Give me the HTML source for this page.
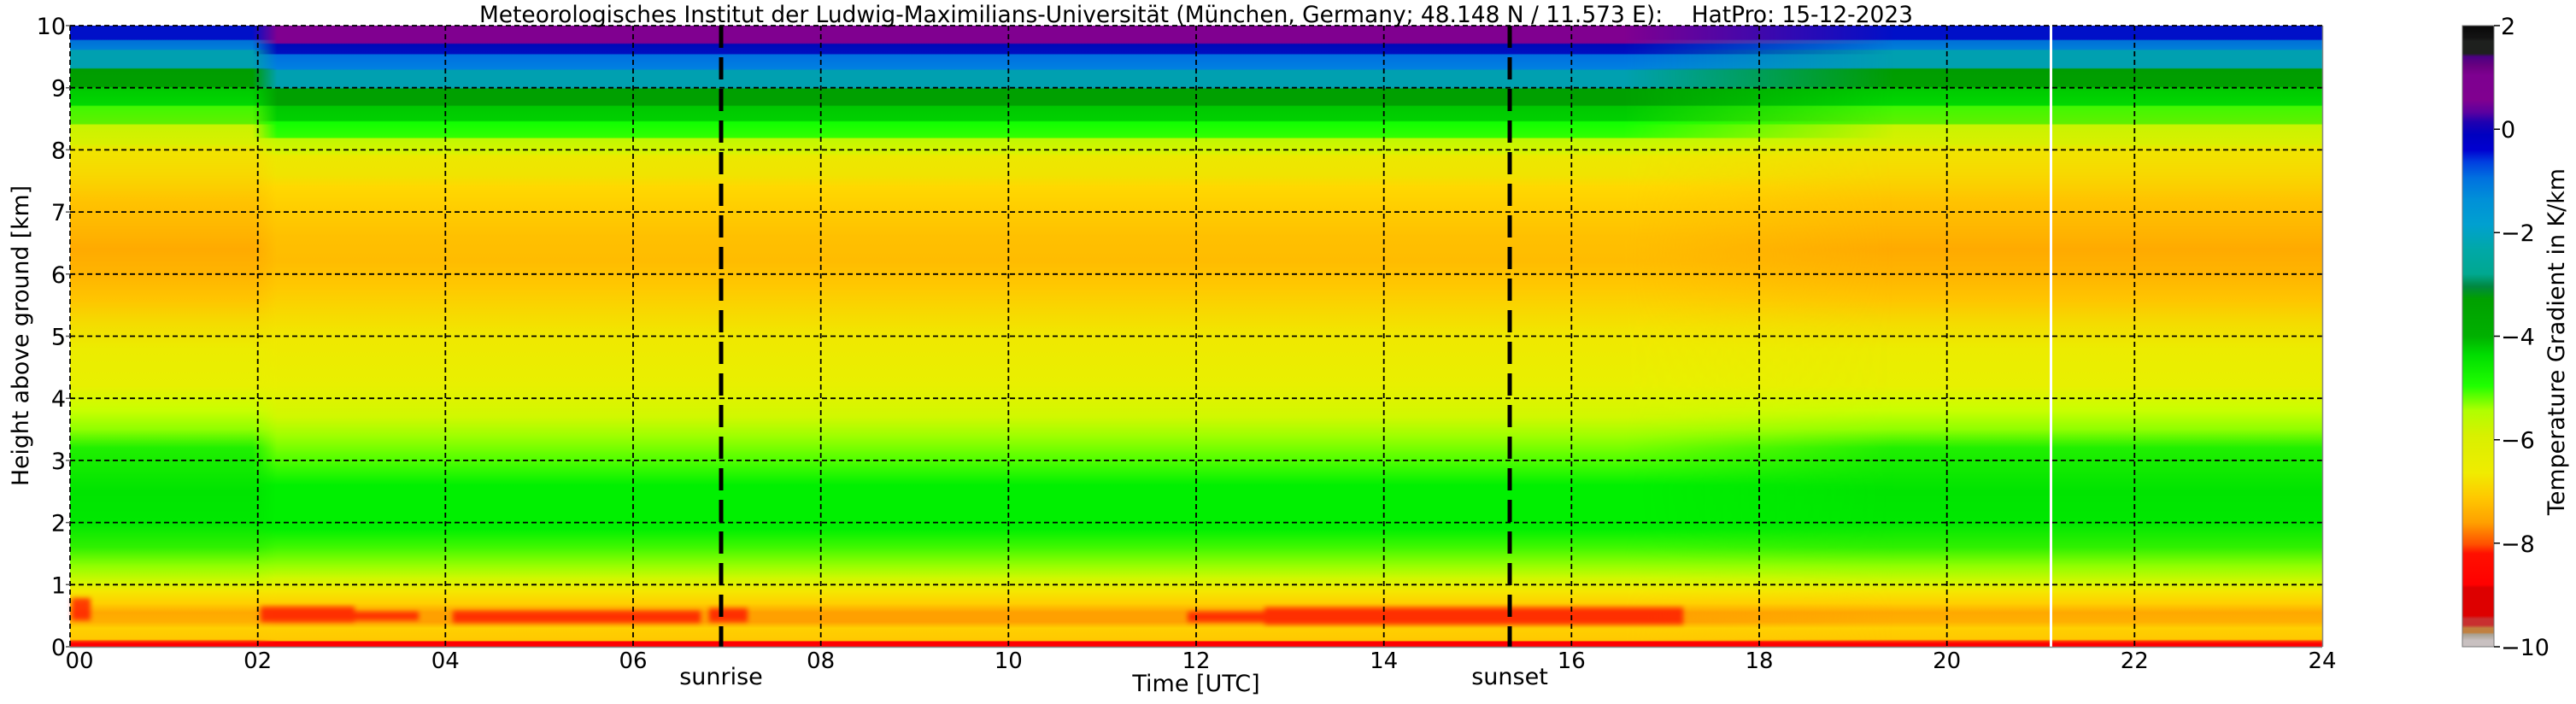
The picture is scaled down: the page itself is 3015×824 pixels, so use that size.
<!DOCTYPE html>
<html><head><meta charset="utf-8"><style>
html,body{margin:0;padding:0;background:#fff;}
svg{display:block;}
text{font-family:"DejaVu Sans","Liberation Sans",sans-serif;fill:#000;}
</style></head><body>
<svg width="3015" height="824" viewBox="0 0 3015 824" xmlns="http://www.w3.org/2000/svg">
<defs>
<linearGradient id="night" x1="0" y1="0" x2="0" y2="1">
<stop offset="0" stop-color="#0010c8"/><stop offset=".022" stop-color="#0010c8"/>
<stop offset=".024" stop-color="#0070d8"/><stop offset=".038" stop-color="#0080d8"/>
<stop offset=".04" stop-color="#00a0b0"/><stop offset=".068" stop-color="#00a0b0"/>
<stop offset=".07" stop-color="#009c00"/><stop offset=".098" stop-color="#00a000"/>
<stop offset=".1" stop-color="#00c800"/><stop offset=".128" stop-color="#00d800"/>
<stop offset=".13" stop-color="#40f800"/><stop offset=".158" stop-color="#60f000"/>
<stop offset=".16" stop-color="#c8f400"/><stop offset=".19" stop-color="#d8f000"/>
<stop offset=".2" stop-color="#f0e400"/><stop offset=".24" stop-color="#f8d800"/>
<stop offset=".28" stop-color="#ffc400"/><stop offset=".32" stop-color="#ffb800"/>
<stop offset=".36" stop-color="#ffaa00"/><stop offset=".40" stop-color="#ffb400"/>
<stop offset=".44" stop-color="#ffc400"/><stop offset=".48" stop-color="#f4dc00"/>
<stop offset=".52" stop-color="#ecec00"/><stop offset=".58" stop-color="#e8f000"/>
<stop offset=".62" stop-color="#c8ff00"/><stop offset=".65" stop-color="#90ff00"/>
<stop offset=".68" stop-color="#20f000"/><stop offset=".75" stop-color="#00e400"/>
<stop offset=".80" stop-color="#00e800"/><stop offset=".84" stop-color="#30f000"/>
<stop offset=".87" stop-color="#90ff00"/><stop offset=".895" stop-color="#d0f800"/>
<stop offset=".91" stop-color="#f4e800"/><stop offset=".93" stop-color="#ffd000"/>
<stop offset=".945" stop-color="#ffa800"/><stop offset=".96" stop-color="#ffb000"/>
<stop offset=".97" stop-color="#ffd000"/><stop offset=".988" stop-color="#ffc800"/>
<stop offset=".992" stop-color="#ff2000"/><stop offset="1" stop-color="#ff0000"/>
</linearGradient>
<linearGradient id="day" x1="0" y1="0" x2="0" y2="1">
<stop offset="0" stop-color="#800090"/><stop offset=".028" stop-color="#800090"/>
<stop offset=".03" stop-color="#0008b8"/><stop offset=".045" stop-color="#0010c0"/>
<stop offset=".047" stop-color="#0070e0"/><stop offset=".07" stop-color="#0080e0"/>
<stop offset=".072" stop-color="#00a0b0"/><stop offset=".1" stop-color="#00a0b0"/>
<stop offset=".102" stop-color="#00a000"/><stop offset=".128" stop-color="#00a000"/>
<stop offset=".13" stop-color="#00c800"/><stop offset=".153" stop-color="#00d000"/>
<stop offset=".155" stop-color="#10ff00"/><stop offset=".18" stop-color="#30ff00"/>
<stop offset=".182" stop-color="#c0f800"/><stop offset=".205" stop-color="#d8f400"/>
<stop offset=".21" stop-color="#ece800"/><stop offset=".24" stop-color="#f0e400"/>
<stop offset=".26" stop-color="#ffd800"/><stop offset=".30" stop-color="#ffcc00"/>
<stop offset=".34" stop-color="#ffc000"/><stop offset=".38" stop-color="#ffbc00"/>
<stop offset=".42" stop-color="#ffc800"/><stop offset=".46" stop-color="#f8d800"/>
<stop offset=".50" stop-color="#f0e800"/><stop offset=".58" stop-color="#e8f000"/>
<stop offset=".63" stop-color="#d0f800"/><stop offset=".66" stop-color="#a0ff00"/>
<stop offset=".70" stop-color="#50ff00"/><stop offset=".74" stop-color="#00f000"/>
<stop offset=".81" stop-color="#00f000"/><stop offset=".84" stop-color="#40f800"/>
<stop offset=".87" stop-color="#98ff00"/><stop offset=".89" stop-color="#d0f800"/>
<stop offset=".91" stop-color="#f4e800"/><stop offset=".93" stop-color="#ffd000"/>
<stop offset=".945" stop-color="#ffa000"/><stop offset=".96" stop-color="#ffa000"/>
<stop offset=".97" stop-color="#ffd000"/><stop offset=".99" stop-color="#ffc800"/>
<stop offset=".992" stop-color="#ff0000"/><stop offset="1" stop-color="#ff0000"/>
</linearGradient>
<linearGradient id="dmask" x1="82" y1="0" x2="2718" y2="0" gradientUnits="userSpaceOnUse">
<stop offset="0" stop-color="#000"/><stop offset=".081" stop-color="#000"/>
<stop offset=".092" stop-color="#fff"/><stop offset=".69" stop-color="#fff"/>
<stop offset=".81" stop-color="#000"/><stop offset="1" stop-color="#000"/>
</linearGradient>
<mask id="m"><rect x="82" y="30" width="2636" height="727" fill="url(#dmask)"/></mask>
<filter id="bl" x="-20%" y="-100%" width="140%" height="300%"><feGaussianBlur stdDeviation="3"/></filter>
<linearGradient id="cb" x1="0" y1="0" x2="0" y2="1">
<stop offset="0" stop-color="#080808"/><stop offset=".02" stop-color="#141414"/>
<stop offset=".025" stop-color="#1e201e"/><stop offset=".045" stop-color="#1e201e"/>
<stop offset=".05" stop-color="#4b0082"/><stop offset=".065" stop-color="#6a0080"/>
<stop offset=".08" stop-color="#7e0090"/><stop offset=".12" stop-color="#800090"/>
<stop offset=".14" stop-color="#5a00a0"/><stop offset=".155" stop-color="#2000b0"/>
<stop offset=".175" stop-color="#0000c0"/><stop offset=".2" stop-color="#0000d0"/>
<stop offset=".22" stop-color="#0040e0"/><stop offset=".245" stop-color="#0070e0"/>
<stop offset=".28" stop-color="#0090d8"/><stop offset=".32" stop-color="#00a0d0"/>
<stop offset=".36" stop-color="#00a8a8"/><stop offset=".40" stop-color="#00a890"/>
<stop offset=".42" stop-color="#008840"/><stop offset=".44" stop-color="#00a000"/>
<stop offset=".5" stop-color="#00b000"/><stop offset=".53" stop-color="#00dd00"/>
<stop offset=".58" stop-color="#20ff00"/><stop offset=".62" stop-color="#b0ff00"/>
<stop offset=".66" stop-color="#d8f000"/><stop offset=".72" stop-color="#f0ec00"/>
<stop offset=".76" stop-color="#ffc800"/><stop offset=".8" stop-color="#ffa000"/>
<stop offset=".835" stop-color="#ff5000"/><stop offset=".85" stop-color="#ff1000"/>
<stop offset=".9" stop-color="#ff0000"/><stop offset=".905" stop-color="#dd0000"/>
<stop offset=".95" stop-color="#dd0000"/><stop offset=".955" stop-color="#c83030"/>
<stop offset=".965" stop-color="#c83030"/><stop offset=".97" stop-color="#c08040"/>
<stop offset=".977" stop-color="#c08040"/><stop offset=".98" stop-color="#a8a090"/>
<stop offset=".99" stop-color="#c8c0c0"/><stop offset="1" stop-color="#c8c0c0"/>
</linearGradient>
</defs>

<rect x="82" y="30" width="2636" height="727" fill="url(#night)"/>
<rect x="82" y="30" width="2636" height="727" fill="url(#day)" mask="url(#m)"/>
<g fill="#ff0000" filter="url(#bl)" opacity="0.7">
<rect x="84" y="700" width="22" height="26"/>
<rect x="305" y="710" width="110" height="18"/>
<rect x="400" y="716" width="90" height="10"/>
<rect x="530" y="715" width="290" height="14"/>
<rect x="830" y="712" width="45" height="16"/>
<rect x="1390" y="716" width="160" height="12"/>
<rect x="1480" y="711" width="490" height="20"/>
</g>
<rect x="82" y="753" width="2636" height="4" fill="#ff0000"/>
<rect x="2399" y="30" width="3" height="727" fill="#fff"/>
<g stroke="#000" stroke-width="1.8" stroke-dasharray="6,4" fill="none">
<path d="M82 102.7H2718M82 175.4H2718M82 248.1H2718M82 320.8H2718M82 393.5H2718M82 466.2H2718M82 538.9H2718M82 611.6H2718M82 684.3H2718M82 30H2718"/>
<path d="M82 30V757M301.7 30V757M521.3 30V757M741 30V757M960.7 30V757M1180.3 30V757M1400 30V757M1619.7 30V757M1839.3 30V757M2059 30V757M2278.7 30V757M2498.3 30V757"/>
</g>
<g stroke="#000" stroke-width="5" stroke-dasharray="26,11">
<line x1="844" y1="30" x2="844" y2="757"/>
<line x1="1767" y1="30" x2="1767" y2="757"/>
</g>
<line x1="82" y1="757.5" x2="2718" y2="757.5" stroke="#888" stroke-width="1.5"/>
<line x1="2718.5" y1="30" x2="2718.5" y2="757" stroke="#888" stroke-width="1.5"/>
<g stroke="#555" stroke-width="1.5">
<path d="M77 30H82M77 102.7H82M77 175.4H82M77 248.1H82M77 320.8H82M77 393.5H82M77 466.2H82M77 538.9H82M77 611.6H82M77 684.3H82M77 757H82"/>
</g>
<g font-size="27" text-anchor="end">
<text x="77" y="40">10</text><text x="77" y="112.7">9</text><text x="77" y="185.4">8</text>
<text x="77" y="258.1">7</text><text x="77" y="330.8">6</text><text x="77" y="403.5">5</text>
<text x="77" y="476.2">4</text><text x="77" y="548.9">3</text><text x="77" y="621.6">2</text>
<text x="77" y="694.3">1</text><text x="77" y="767">0</text>
</g>
<g font-size="26" text-anchor="middle">
<text x="93" y="782">00</text><text x="301.7" y="782">02</text><text x="521.3" y="782">04</text>
<text x="741" y="782">06</text><text x="960.7" y="782">08</text><text x="1180.3" y="782">10</text>
<text x="1400" y="782">12</text><text x="1619.7" y="782">14</text><text x="1839.3" y="782">16</text>
<text x="2059" y="782">18</text><text x="2278.7" y="782">20</text><text x="2498.3" y="782">22</text>
<text x="2718" y="782">24</text>
<text x="844" y="801" font-size="27">sunrise</text>
<text x="1767" y="801" font-size="27">sunset</text>
<text x="1400" y="809" font-size="27">Time [UTC]</text>
</g>
<text transform="translate(33,393) rotate(-90)" font-size="27" text-anchor="middle" textLength="352" lengthAdjust="spacingAndGlyphs">Height above ground [km]</text>
<text x="561" y="26" font-size="27" textLength="1678" lengthAdjust="spacingAndGlyphs" xml:space="preserve">Meteorologisches Institut der Ludwig-Maximilians-Universität (München, Germany; 48.148 N / 11.573 E):    HatPro: 15-12-2023</text>

<rect x="2882" y="30" width="37" height="727" fill="url(#cb)" stroke="#777" stroke-width="1"/>
<g stroke="#000" stroke-width="1.5">
<path d="M2919 30H2926M2919 151.2H2926M2919 272.3H2926M2919 393.5H2926M2919 514.7H2926M2919 635.8H2926M2919 757H2926"/>
</g>
<g font-size="27">
<text x="2927" y="40">2</text><text x="2927" y="161">0</text>
<text x="2927" y="282">−2</text><text x="2927" y="403.5">−4</text>
<text x="2927" y="524.7">−6</text><text x="2927" y="645.8">−8</text>
<text x="2927" y="767">−10</text>
</g>
<text transform="translate(3001,400) rotate(-90)" font-size="27" text-anchor="middle" textLength="406" lengthAdjust="spacingAndGlyphs">Temperature Gradient in K/km</text>
</svg>
</body></html>
